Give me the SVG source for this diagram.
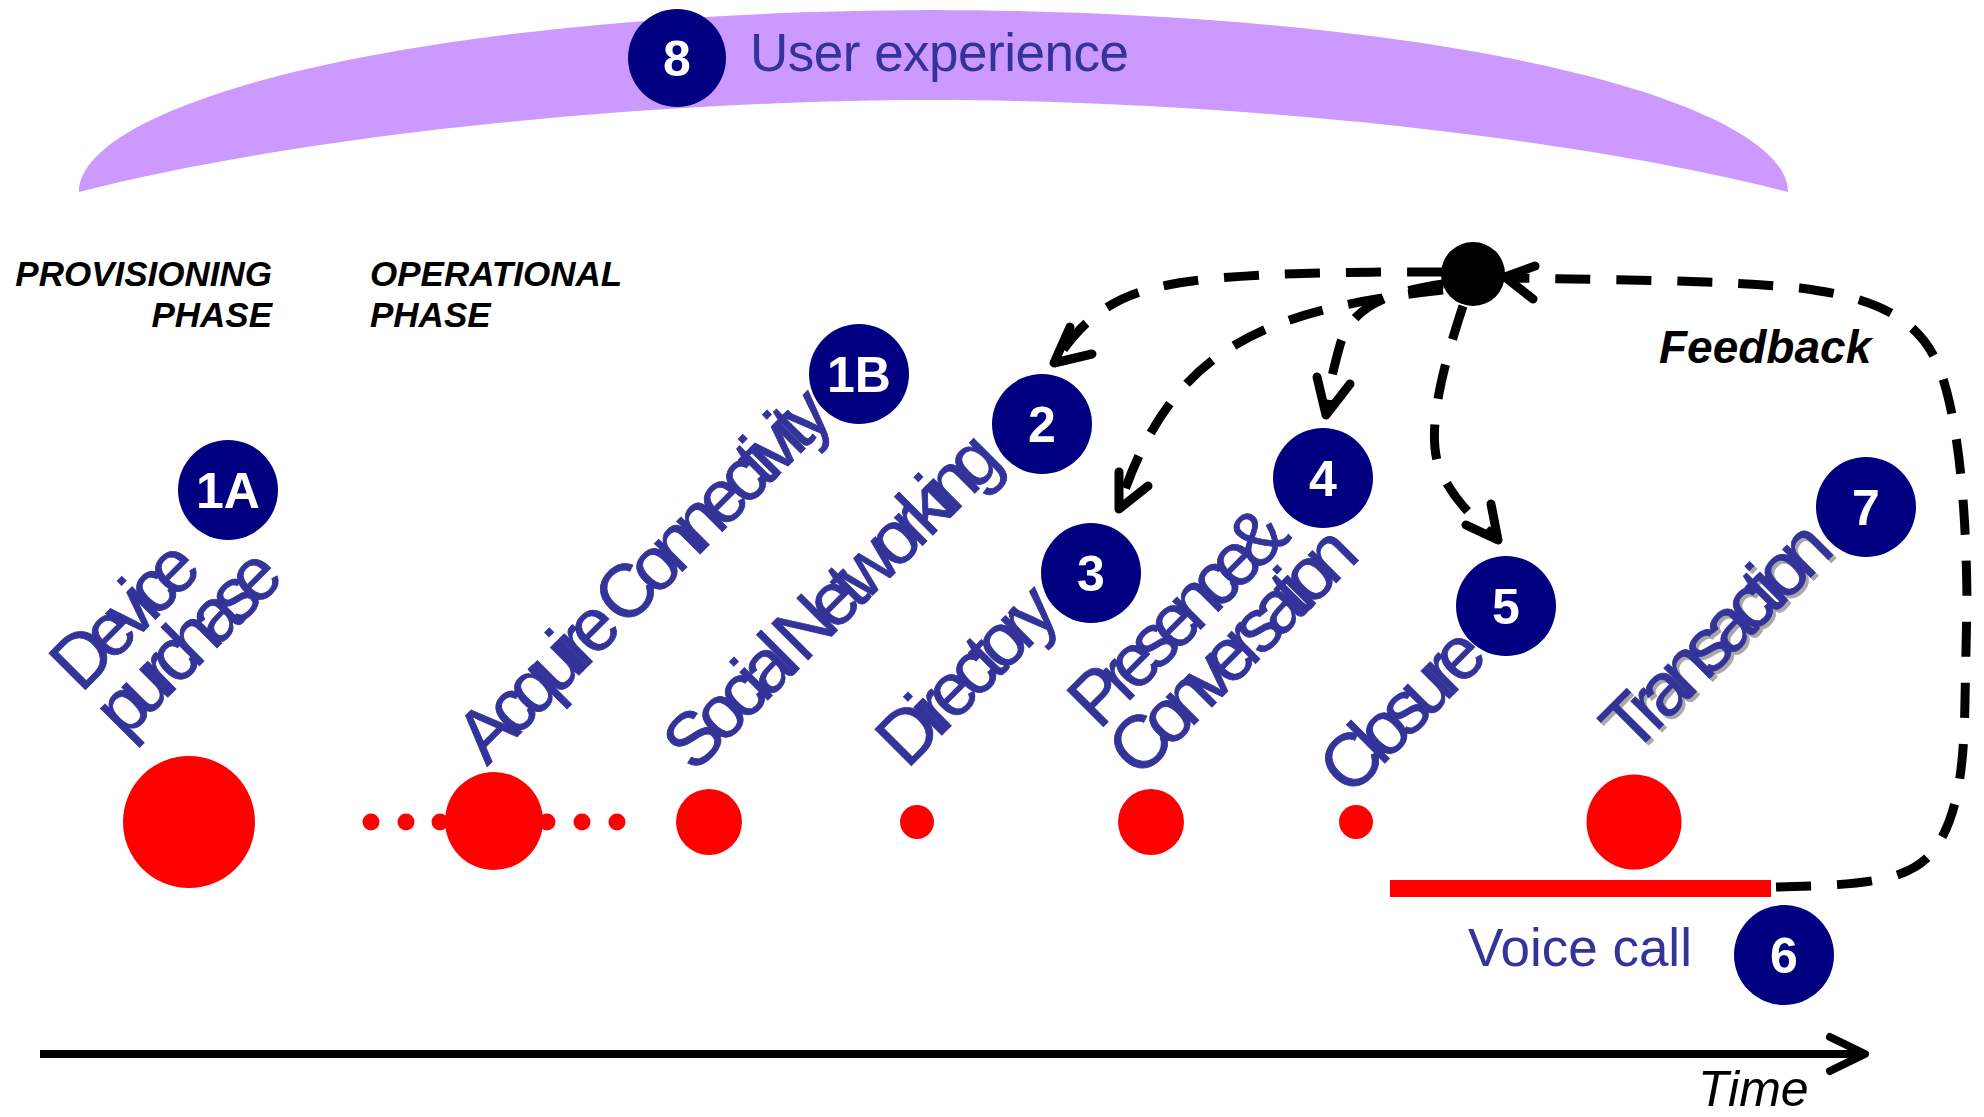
<svg xmlns="http://www.w3.org/2000/svg" width="1984" height="1117" viewBox="0 0 1984 1117">
<defs>
<style>
.num{fill:#000080}
.numt{fill:#ffffff;font-family:"Liberation Sans",Arial,sans-serif;font-weight:bold;font-size:50px;text-anchor:middle}
.lbl{fill:#333399;stroke:#333399;stroke-width:0.8px;font-family:"Liberation Sans",Arial,sans-serif;font-size:75px;letter-spacing:-10px}
.shadow{fill:#a8a8a8;stroke:#a8a8a8}
.red{fill:#ff0000}
.dash{fill:none;stroke:#000000;stroke-width:9;stroke-dasharray:35 26}
.head{fill:none;stroke:#000000;stroke-width:9;stroke-linecap:round;stroke-linejoin:round}
.phase{font-family:"Liberation Sans",Arial,sans-serif;font-weight:bold;font-style:italic;font-size:35px;fill:#000000}
.blue{fill:#333399;font-family:"Liberation Sans",Arial,sans-serif;font-size:53px}
</style>
</defs>
<rect width="1984" height="1117" fill="#ffffff"/>

<g id="user-experience">
<path d="M79,192 C79,105 400,12 933,10 C1466,12 1788,105 1788,192 C1567,135 1217,100 934,100 C650,100 300,135 79,192 Z" fill="#cc99ff"/>
<circle class="num" cx="677" cy="58" r="49"/>
<text class="numt" x="677" y="76">8</text>
<text class="blue" x="750" y="71" style="letter-spacing:-0.5px">User experience</text>
</g>

<g id="phases">
<text class="phase" x="272" y="286" text-anchor="end">PROVISIONING</text>
<text class="phase" x="272" y="327" text-anchor="end">PHASE</text>
<text class="phase" x="370" y="286">OPERATIONAL</text>
<text class="phase" x="370" y="327">PHASE</text>
</g>

<g id="node-1a">
<circle class="red" cx="189" cy="822" r="66"/>
<text class="lbl" transform="translate(81,694) rotate(-45)" style="letter-spacing:-11px">Device</text>
<text class="lbl" transform="translate(125,740) rotate(-45)" style="letter-spacing:-11.5px">purchase</text>
<circle class="num" cx="228" cy="490" r="50"/>
<text class="numt" x="228" y="508">1A</text>
</g>

<g id="node-1b">
<circle class="red" cx="371" cy="822" r="8.5"/>
<circle class="red" cx="406" cy="822" r="8.5"/>
<circle class="red" cx="440" cy="822" r="8.5"/>
<circle class="red" cx="547" cy="822" r="8.5"/>
<circle class="red" cx="582" cy="822" r="8.5"/>
<circle class="red" cx="617" cy="822" r="8.5"/>
<circle class="red" cx="494" cy="821" r="49"/>
<text class="lbl" transform="translate(487,767) rotate(-45)">Acquire Connectivity</text>
<circle class="num" cx="859" cy="374" r="50"/>
<text class="numt" x="859" y="392">1B</text>
</g>

<g id="node-2">
<circle class="red" cx="709" cy="822" r="33"/>
<text class="lbl" transform="translate(694,774) rotate(-45)">Social Networking</text>
<circle class="num" cx="1042" cy="424" r="50"/>
<text class="numt" x="1042" y="442">2</text>
</g>

<g id="node-3">
<circle class="red" cx="917" cy="822" r="17"/>
<text class="lbl" transform="translate(907,770) rotate(-45)">Directory</text>
<circle class="num" cx="1091" cy="573" r="50"/>
<text class="numt" x="1091" y="591">3</text>
</g>

<g id="node-4">
<circle class="red" cx="1151" cy="822" r="33"/>
<text class="lbl" transform="translate(1099,731) rotate(-45)" style="letter-spacing:-11.5px;word-spacing:-10px">Presence &amp;</text>
<text class="lbl" transform="translate(1139,780) rotate(-45)" style="letter-spacing:-11.5px">Conversation</text>
<circle class="num" cx="1323" cy="478" r="50"/>
<text class="numt" x="1323" y="496">4</text>
</g>

<g id="node-5">
<circle class="red" cx="1356" cy="822" r="17"/>
<text class="lbl" transform="translate(1350,798) rotate(-45)">Closure</text>
<circle class="num" cx="1506" cy="606" r="50"/>
<text class="numt" x="1506" y="624">5</text>
</g>

<g id="node-6">
<rect class="red" x="1390" y="880" width="381" height="17"/>
<text class="blue" x="1468" y="966">Voice call</text>
<circle class="num" cx="1784" cy="955" r="50"/>
<text class="numt" x="1784" y="973">6</text>
</g>

<g id="node-7">
<circle class="red" cx="1634" cy="822" r="47.5"/>
<text class="lbl shadow" transform="translate(1635,759) rotate(-45)">Transaction</text>
<text class="lbl" transform="translate(1632,756) rotate(-45)">Transaction</text>
<circle class="num" cx="1866" cy="507" r="50"/>
<text class="numt" x="1866" y="525">7</text>
</g>

<g id="feedback-hub">
<circle cx="1473" cy="274" r="32" fill="#000000"/>
<text x="1659" y="363" font-family="Liberation Sans, Arial, sans-serif" font-weight="bold" font-style="italic" font-size="46" fill="#000000">Feedback</text>
</g>

<g id="connectors">
<path class="dash" d="M1442,272 C1330,272 1200,272 1140,292 C1100,305 1075,330 1055,362"/>
<path class="head" d="M1070,327 L1054,363 L1092,354"/>
<path class="dash" d="M1443,290 C1260,310 1170,350 1119,507"/>
<path class="head" d="M1119,472 L1119,509 L1148,486"/>
<path class="dash" d="M1443,284 C1390,292 1352,305 1340,345 C1333,370 1328,392 1326,413"/>
<path class="head" d="M1317,377 L1326,415 L1350,384"/>
<path class="dash" d="M1463,306 C1442,370 1422,442 1444,478 C1458,505 1478,522 1496,538"/>
<path class="head" d="M1466,525 L1498,540 L1491,504"/>
<path class="dash" d="M1776,887 C1860,885 1905,882 1930,855 C1955,825 1964,780 1965,700 L1967,600 C1966,500 1958,420 1940,370 C1918,310 1860,296 1800,288 C1720,280 1620,280 1508,278"/>
<path class="head" d="M1535,266 L1505,277 L1533,299"/>
</g>

<g id="time-axis">
<line x1="40" y1="1054" x2="1860" y2="1054" stroke="#000000" stroke-width="8"/>
<path class="head" d="M1830,1037 L1865,1054 L1830,1071" style="stroke-width:8"/>
<text x="1698" y="1106" font-family="Liberation Sans, Arial, sans-serif" font-style="italic" font-size="50" fill="#000000">Time</text>
</g>
</svg>
